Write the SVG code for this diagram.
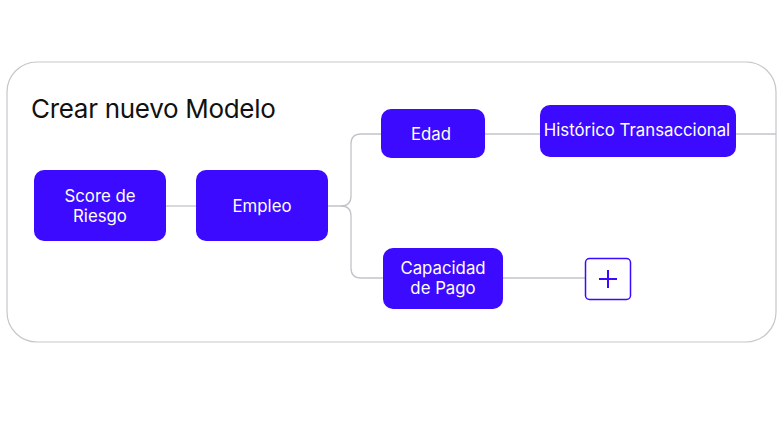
<svg xmlns="http://www.w3.org/2000/svg" width="783" height="426" viewBox="0 0 783 426">
<style>
.node rect{fill:#3c0aff;}
.node text{fill:#ffffff;font-family:Inter,"Noto Sans",sans-serif;font-size:16.8px;text-anchor:middle;}
.conn path{fill:none;stroke:#c2c4ca;stroke-width:1.3;}
.title{font-family:Inter,"Noto Sans",sans-serif;font-size:26px;fill:#111111;letter-spacing:-0.3px;}
</style>
<rect width="783" height="426" fill="#ffffff"/>
<g id="container">
<rect x="7" y="62" width="769" height="280" rx="30" ry="30" fill="#ffffff" stroke="#c6c7cc" stroke-width="1.2"/>
<text class="title" x="31" y="118">Crear nuevo Modelo</text>
</g>
<g class="conn" id="connectors">
<path d="M166 206 H196"/>
<path d="M328 206 H341 Q351 206 351 196 V144 Q351 134 361 134 H381"/>
<path d="M341 206 Q351 206 351 216 V268 Q351 278 361 278 H383"/>
<path d="M485 134 H540"/>
<path d="M736 134 H776"/>
<path d="M503 278 H585"/>
</g>
<g class="node" id="score">
<rect x="34" y="170" width="132" height="71" rx="10"/>
<text x="100" y="201.5">Score de</text>
<text x="100" y="221.5">Riesgo</text>
</g>
<g class="node" id="empleo">
<rect x="196" y="170" width="132" height="71" rx="10"/>
<text x="262" y="212">Empleo</text>
</g>
<g class="node" id="edad">
<rect x="381" y="109" width="104" height="49" rx="10"/>
<text x="431" y="140">Edad</text>
</g>
<g class="node" id="historico">
<rect x="540" y="105" width="196" height="52" rx="10"/>
<text x="637" y="136">Histórico Transaccional</text>
</g>
<g class="node" id="capacidad">
<rect x="383" y="248" width="120" height="61" rx="10"/>
<text x="443" y="274">Capacidad</text>
<text x="443" y="294">de Pago</text>
</g>
<g id="add">
<rect x="585.5" y="258.5" width="45" height="41" rx="4" fill="#ffffff" stroke="#3c0aff" stroke-width="1.5"/>
<path d="M608 270 V288 M599 279 H617" stroke="#3c0aff" stroke-width="2" fill="none"/>
</g>
</svg>
